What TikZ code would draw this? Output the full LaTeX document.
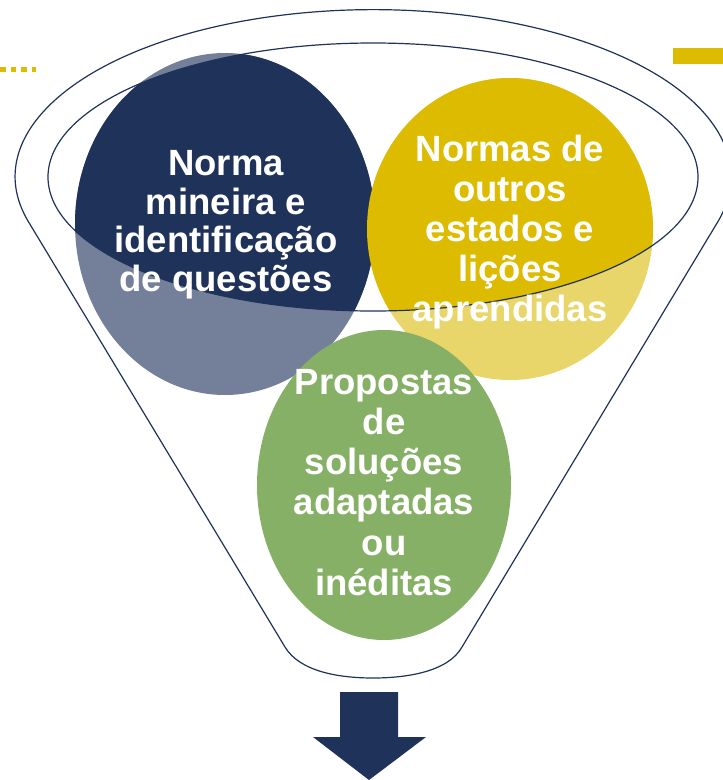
\documentclass[tikz,border=0pt]{standalone}
\usepackage{fontspec}
\setmainfont{Liberation Sans}
\definecolor{navy}{RGB}{31,50,89}
\definecolor{navyl}{RGB}{116,128,154}
\definecolor{gold}{RGB}{221,187,0}
\definecolor{goldl}{RGB}{233,214,107}
\definecolor{leaf}{RGB}{133,176,102}
\begin{document}
\begin{tikzpicture}[x=1pt,y=-1pt,
  funnelline/.style={draw=navy, line width=1.2pt, line join=round},
  lbl/.style={text=white, align=center, inner sep=0pt, anchor=north},
  dots/.style={gold, line width=5pt, dash pattern=on 5.5pt off 5.2pt}]
\useasboundingbox (0,0) rectangle (723,780);
% light parts of the circles
\fill[navyl] (225,224) ellipse [x radius=150pt, y radius=171pt];
\fill[goldl] (510,229) ellipse [x radius=143pt, y radius=151pt];
% full colour inside the funnel mouth
\begin{scope}
  \clip (373,177) ellipse [x radius=325pt, y radius=134pt];
  \fill[navy] (225,224) ellipse [x radius=150pt, y radius=171pt];
  \fill[gold] (510,229) ellipse [x radius=143pt, y radius=151pt];
\end{scope}
\fill[leaf] (384,485) ellipse [x radius=127pt, y radius=155pt];
% funnel
\draw[funnelline] (373,177) ellipse [x radius=325pt, y radius=134pt];
\draw[funnelline] (28,221) arc [start angle=195.4, end angle=-15.4, x radius=358pt, y radius=167pt]
  -- (462,647) .. controls (448,672) and (406,678) .. (373,678)
  .. controls (340,678) and (300,672) .. (285,647) -- cycle;
% texts
\node[lbl, font=\fontsize{36.5}{38.7}\selectfont\bfseries] (t1) at (226,150)
  {Norma\\mineira e\\identificação\\de questões};
\node[lbl, font=\fontsize{36.5}{40.1}\selectfont\bfseries] (t2) at (510,134.4)
  {Normas de\\outros\\estados e\\lições\\aprendidas};
\node[lbl, font=\fontsize{36.5}{40.2}\selectfont\bfseries] (t3) at (384,369)
  {Propostas\\de\\soluções\\adaptadas\\ou\\inéditas};
% arrow
\fill[navy] (340,692) -- (398,692) -- (398,737) -- (426,737) -- (369,780)
  -- (313,737) -- (340,737) -- cycle;
% decorations
\draw[dots] (0,69) -- (35.5,69);
\begin{scope}
  \clip (0,0) rectangle (723,780);
  \draw[dots] (0,782) -- (35.5,782);
\end{scope}
\fill[gold] (673,48) rectangle (723,64);
\end{tikzpicture}
\end{document}
